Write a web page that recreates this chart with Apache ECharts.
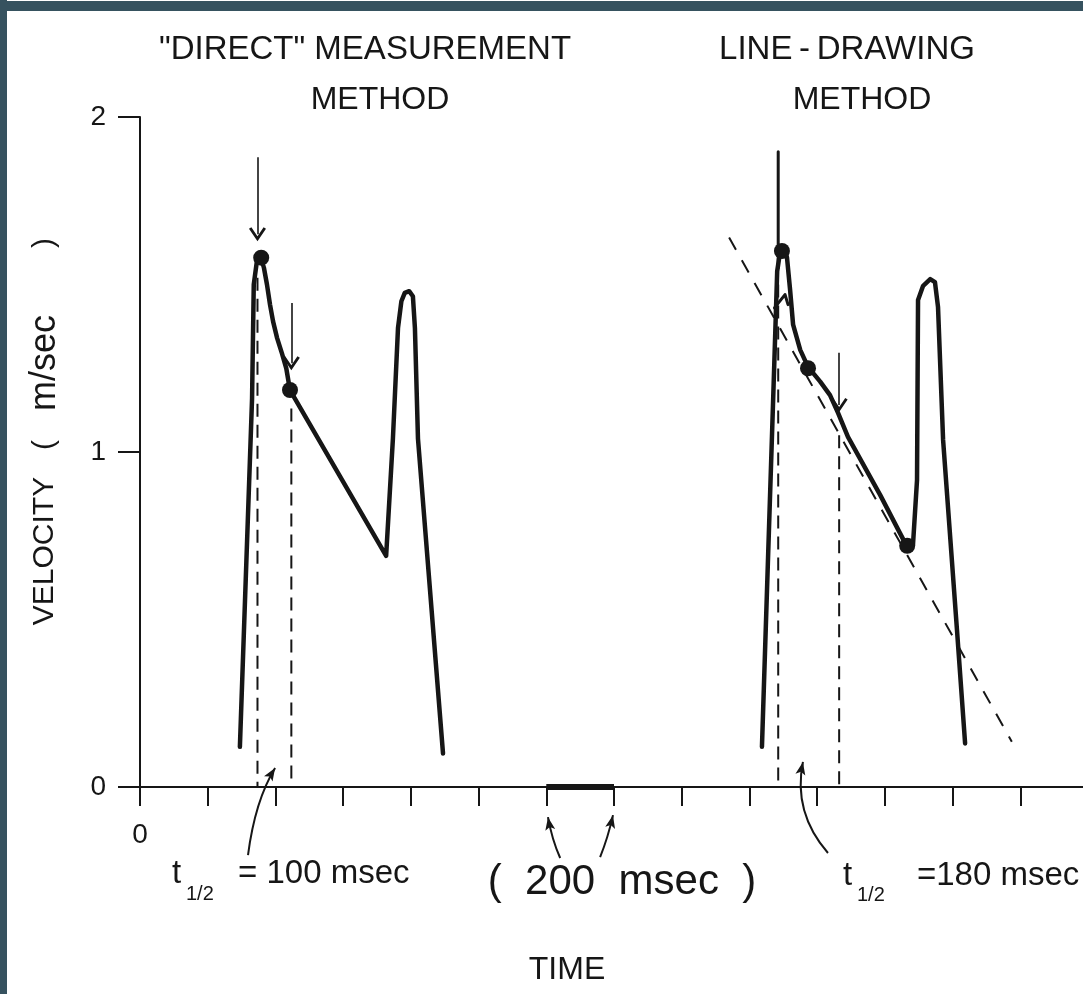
<!DOCTYPE html>
<html>
<head>
<meta charset="utf-8">
<script src="https://cdn.jsdelivr.net/npm/echarts@6/dist/echarts.min.js"></script>
<style>
html,body{margin:0;padding:0;background:#fff;}
#c{width:1083px;height:994px;}
</style>
</head>
<body>
<div id="c"></div>
<script>
// ---- data (time in msec, velocity in m/sec) ----
const xTicks = [0, 200, 400, 600, 800, 1000, 1200, 1400, 1600, 1800, 2000, 2200, 2400, 2600, 2800];
const yTicks = [0, 1, 2];

// "direct" measurement method trace
const directTrace = [[295,0.12],[331,1.16],[336,1.50],[346,1.575],[356,1.585],[366,1.55],[375,1.50],[384,1.44],[393,1.39],[405,1.34],[419,1.295],[432,1.25],[443,1.185],[727,0.69],[747,1.04],[762,1.37],[772,1.45],[782,1.475],[795,1.48],[806,1.465],[812,1.37],[821,1.04],[895,0.10]];
const directDots = [[358,1.58],[443,1.185]];
const directDrops = [[347,1.52],[447,1.13]];          // dashed verticals: [time, top]
const directArrows = [[347,1.88,1.65],[447,1.445,1.265]]; // [time, from, to]

// line-drawing method trace
const drawTrace = [[1837,0.12],[1870,1.155],[1882,1.54],[1891,1.60],[1902,1.612],[1911,1.58],[1920,1.485],[1929,1.38],[1950,1.305],[1973,1.254],[2009,1.21],[2038,1.17],[2062,1.116],[2091,1.045],[2186,0.872],[2263,0.722],[2283,0.722],[2295,0.916],[2298,1.454],[2313,1.496],[2334,1.516],[2348,1.507],[2357,1.433],[2372,1.036],[2413,0.469],[2437,0.13]];
const drawShoulder = [[1874,1.43],[1905,1.47],[1914,1.44]];
const drawDots = [[1896,1.60],[1973,1.25],[2266,0.72]];
const drawSpike = [[1885,1.896],[1885,1.55]];
const drawDrops = [[1885,1.50],[2065,1.05]];
const drawArrows = [[2065,1.296,1.14]];
const tangentLine = [[1740,1.64],[2575,0.135]];

// 200 msec scale bar on the time axis
const scaleBar = [[1200,0],[1400,0]];

// annotation arrows below the axis: [tail, control, head] in (msec, m/sec)
const noteArrows = [
  [[319,-0.203],[340,-0.04],[399,0.057]],
  [[1241,-0.212],[1217,-0.158],[1205,-0.090]],
  [[1359,-0.209],[1382,-0.152],[1397,-0.084]],
  [[2032,-0.197],[1928,-0.076],[1958,0.075]]
];

// ---- chart ----
const INK = '#161616';
const FONT = "'Liberation Sans', Arial, sans-serif";
const chart = echarts.init(document.getElementById('c'));

const CHEVRON = 'path://M5,0 L10,9 L8.6,10 L5,3.6 L1.4,10 L0,9 Z';

const series = [];
function traceSeries(data, width) {
  return {type:'line', data:data, showSymbol:false, silent:true, z:5,
    lineStyle:{color:INK, width:width, join:'round', cap:'round'}};
}
series.push(traceSeries(directTrace, 4.5));
series.push(traceSeries(drawTrace, 4.5));
series.push(traceSeries(drawShoulder, 3));
series.push(traceSeries(drawSpike, 3));
series.push({type:'line', data:scaleBar, showSymbol:false, silent:true, z:6,
  lineStyle:{color:INK, width:6}});
[directDrops, drawDrops].forEach(arr => arr.forEach(d => {
  series.push({type:'line', data:[[d[0],d[1]],[d[0],0]], showSymbol:false, silent:true, z:3,
    lineStyle:{color:INK, width:2, type:[13,8]}});
}));
const arrowLines = directArrows.concat(drawArrows).map(a => [{coord:[a[0],a[1]]},{coord:[a[0],a[2]]}]);
series.push({type:'line', data:tangentLine, showSymbol:false, silent:true, z:3,
  lineStyle:{color:INK, width:2, type:[14,12]},
  markLine:{silent:true, animation:false, symbol:['none', CHEVRON], symbolSize:[17,14],
    label:{show:false}, lineStyle:{color:INK, width:1.6, type:'solid'}, data:arrowLines}});
series.push({type:'scatter', data:directDots.concat(drawDots), symbolSize:16, silent:true, z:7,
  itemStyle:{color:INK, opacity:1}});

chart.setOption({
  animation:false,
  backgroundColor:'#ffffff',
  grid:{left:140, top:117, width:948, height:670, containLabel:false, outerBoundsMode:'none'},
  xAxis:{type:'value', min:xTicks[0], max:xTicks[xTicks.length-1], interval:200,
    axisLine:{show:true, lineStyle:{color:INK, width:2}},
    axisTick:{show:true, length:19, lineStyle:{color:INK, width:2}},
    axisLabel:{show:true, margin:34, fontSize:28, fontFamily:FONT, color:INK,
      formatter:v => v === 0 ? '0' : ''},
    splitLine:{show:false}},
  yAxis:{type:'value', min:yTicks[0], max:yTicks[yTicks.length-1], interval:1,
    axisLine:{show:true, lineStyle:{color:INK, width:2}},
    axisTick:{show:true, length:22, lineStyle:{color:INK, width:2}},
    axisLabel:{show:true, margin:34, fontSize:28, fontFamily:FONT, color:INK},
    splitLine:{show:false}},
  series:series
});

// ---- annotations ----
const P = d => chart.convertToPixel({gridIndex:0}, d);
const graphics = [];
graphics.push({type:'rect', shape:{x:0, y:1, width:1083, height:10}, style:{fill:'#36525f'}, z:100});
graphics.push({type:'rect', shape:{x:0, y:0, width:7, height:994}, style:{fill:'#36525f'}, z:100});

function txt(x, y, s, size, align, extra) {
  return Object.assign({type:'text', x:x, y:y, z:50, silent:true,
    style:{text:s, fontSize:size, fontFamily:FONT, fill:INK, align:align || 'center', verticalAlign:'middle'}}, extra || {});
}
graphics.push(txt(365, 50, '"DIRECT" MEASUREMENT', 33));
graphics.push(txt(380, 100, 'METHOD', 32));
graphics.push(txt(847, 50, 'LINE\u2009-\u2009DRAWING', 33));
graphics.push(txt(862, 100, 'METHOD', 32));
// y axis title (rotated, reading upward)
const ROT = {rotation:Math.PI/2};
graphics.push(txt(45, 551, 'VELOCITY', 30, 'center', ROT));
graphics.push(txt(45, 445, '(', 30, 'center', ROT));
graphics.push(txt(45, 363, 'm/sec', 36, 'center', ROT));
graphics.push(txt(45, 243, ')', 30, 'center', ROT));
graphics.push(txt(567, 970, 'TIME', 32));
// t1/2 = 100 msec
graphics.push(txt(172, 874, 't', 33, 'left'));
graphics.push(txt(186, 894, '1/2', 20, 'left'));
graphics.push(txt(238, 874, '= 100 msec', 33, 'left'));
// (200 msec)
graphics.push(txt(622, 882, '(  200  msec  )', 42));
// t1/2 = 180 msec
graphics.push(txt(843, 876, 't', 33, 'left'));
graphics.push(txt(857, 895, '1/2', 20, 'left'));
graphics.push(txt(917, 876, '=180 msec', 33, 'left'));

noteArrows.forEach(a => {
  const t = P(a[0]), c = P(a[1]), h = P(a[2]);
  graphics.push({type:'bezierCurve', z:40, silent:true,
    shape:{x1:t[0], y1:t[1], cpx1:c[0], cpy1:c[1], x2:h[0], y2:h[1]},
    style:{stroke:INK, lineWidth:2, fill:null}});
  const dx = h[0]-c[0], dy = h[1]-c[1], L = Math.hypot(dx, dy);
  const ux = dx/L, uy = dy/L, px = -uy, py = ux;
  const len = 13, hw = 5;
  const bx = h[0]-ux*len, by = h[1]-uy*len;
  graphics.push({type:'polygon', z:41, silent:true,
    shape:{points:[[h[0],h[1]],[bx+px*hw,by+py*hw],[bx+ux*3,by+uy*3],[bx-px*hw,by-py*hw]]},
    style:{fill:INK}});
});
chart.setOption({graphic:graphics});
</script>
</body>
</html>
